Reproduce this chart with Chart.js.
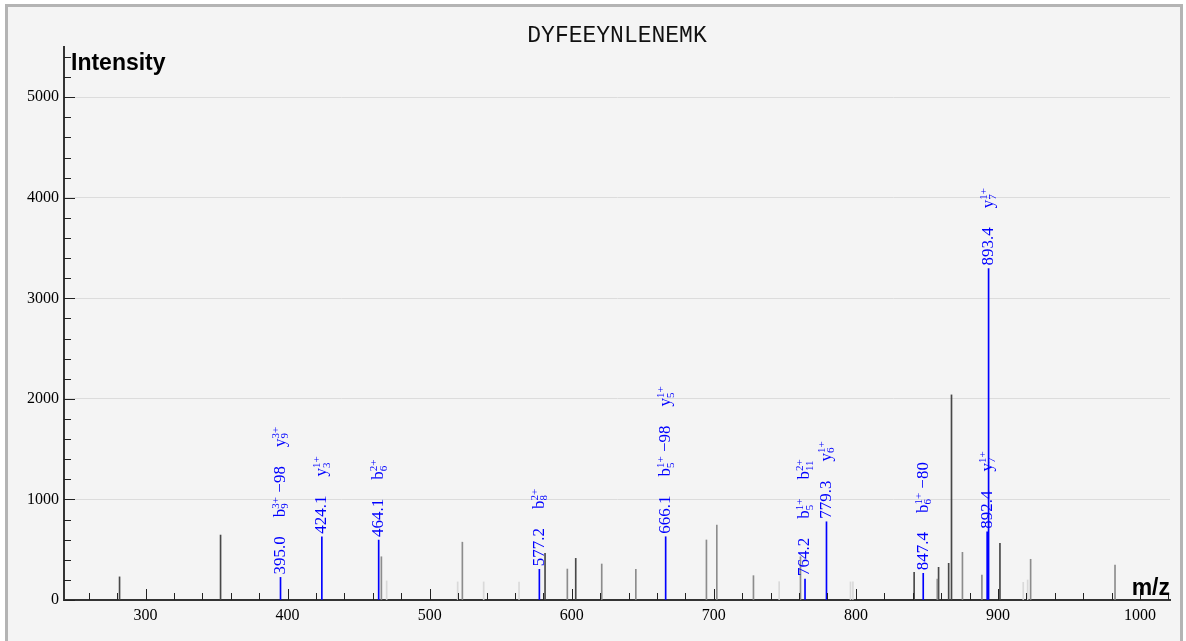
<!DOCTYPE html>
<html>
<head>
<meta charset="utf-8">
<script src="https://cdn.jsdelivr.net/npm/chart.js@4.4.1/dist/chart.umd.min.js"></script>
<style>
  html, body { margin: 0; padding: 0; background: #fff; }
  #frame { position: absolute; left: 5px; top: 4px; width: 1172px; height: 634px; border: 3px solid #b4b4b4; background: #f4f4f4; }
  #spectrum { position: absolute; left: 0; top: 0; }
</style>
</head>
<body>
<div id="frame"></div>
<canvas id="spectrum" width="1186" height="641"></canvas>
<script>
const peptide = "DYFEEYNLENEMK";

// unmatched peaks, dark
const darkMz  = [281.7, 352.8, 581.2, 602.8, 841.0, 858.2, 865.3, 867.3, 901.4];
const darkInt = [230, 646, 465, 414, 275, 325, 365, 2040, 563];

// unmatched peaks, medium
const midMz  = [466.0, 523.0, 596.9, 621.1, 645.1, 694.8, 702.1, 727.9, 761.0, 857.3, 875.0, 888.7, 923.0, 982.4];
const midInt = [430, 575, 308, 358, 305, 597, 745, 242, 430, 208, 474, 248, 405, 348];

// faint peaks
const lightMz  = [469.7, 519.7, 538.0, 562.9, 746.0, 796.2, 797.9, 917.8, 920.9];
const lightInt = [190, 180, 180, 178, 182, 180, 180, 176, 199];

// matched (annotated) peaks
const matchedMz  = [395.0, 424.1, 464.1, 577.2, 666.1, 764.2, 779.3, 847.4, 892.4, 893.4];
const matchedInt = [225, 629, 596, 305, 629, 209, 778, 265, 679, 3297];
const matchedIons = [
    ["b_9^3+ \u221298", "y_9^3+"],
    ["y_3^1+"],
    ["b_6^2+"],
    ["b_8^2+"],
    ["b_5^1+ \u221298", "y_5^1+"],
    ["b_5^1+", "b_11^2+"],
    ["y_6^1+"],
    ["b_6^1+ \u221280"],
    ["y_7^1+"],
    ["y_7^1+"]
];

const xMin = 242.6, xMax = 1021.1;
const yMax = 5500;

function pts(mz, inten) {
    return mz.map((m, i) => ({ x: m, y: inten[i] }));
}

const serif = '"Liberation Serif", "Times New Roman", serif';
const sans = '"Liberation Sans", Arial, sans-serif';

const spectrumDecor = {
    id: 'spectrumDecor',
    afterDraw(chart) {
        const { ctx, chartArea, scales: { x, y } } = chart;
        ctx.save();

        // ticks pointing into the plot
        ctx.strokeStyle = '#222';
        ctx.lineWidth = 1;
        ctx.beginPath();
        for (let v = Math.ceil(xMin / 20) * 20; v <= xMax; v += 20) {
            const px = Math.round(x.getPixelForValue(v)) + 0.5;
            const len = v % 100 === 0 ? 11 : 7;
            ctx.moveTo(px, chartArea.bottom);
            ctx.lineTo(px, chartArea.bottom - len);
        }
        for (let v = 0; v <= yMax; v += 200) {
            const py = Math.round(y.getPixelForValue(v)) + 0.5;
            const len = v % 1000 === 0 ? 11 : 7;
            ctx.moveTo(chartArea.left, py);
            ctx.lineTo(chartArea.left + len, py);
        }
        ctx.stroke();

        // title + axis names
        ctx.fillStyle = '#111';
        ctx.textBaseline = 'alphabetic';
        ctx.textAlign = 'center';
        ctx.font = '23px "Liberation Mono", "Courier New", monospace';
        ctx.fillText(peptide, (chartArea.left + chartArea.right) / 2, chartArea.top - 5);

        ctx.fillStyle = '#000';
        ctx.font = 'bold 23px ' + sans;
        ctx.textAlign = 'left';
        ctx.fillText('Intensity', chartArea.left + 7, chartArea.top + 23);
        ctx.textAlign = 'right';
        ctx.fillText('m/z', chartArea.right, chartArea.bottom - 5);

        // peak annotations, rotated
        ctx.fillStyle = '#0000ff';
        ctx.textBaseline = 'middle';
        ctx.textAlign = 'left';
        matchedMz.forEach((mz, i) => {
            const px = x.getPixelForValue(mz);
            const py = y.getPixelForValue(matchedInt[i]);
            ctx.save();
            ctx.translate(px, py - 3);
            ctx.rotate(-Math.PI / 2);
            let pos = 0;
            const num = mz.toFixed(1);
            ctx.font = '17px ' + serif;
            ctx.fillText(num, pos, 0);
            pos += ctx.measureText(num).width + 19;
            matchedIons[i].forEach(ion => {
                const m = ion.match(/^([a-z])_(\d+)\^(\d\+)(.*)$/);
                ctx.font = '17px ' + serif;
                ctx.fillText(m[1], pos, 0);
                pos += ctx.measureText(m[1]).width;
                ctx.font = '11px ' + serif;
                ctx.fillText(m[3], pos, -4.5);
                ctx.fillText(m[2], pos, 5);
                pos += Math.max(ctx.measureText(m[2]).width, ctx.measureText(m[3]).width);
                if (m[4]) {
                    ctx.font = '17px ' + serif;
                    ctx.fillText(m[4], pos, 0);
                    pos += ctx.measureText(m[4]).width;
                }
                pos += 19;
            });
            ctx.restore();
        });
        ctx.restore();
    }
};

const isMultiple = (v, step) => Math.abs(v / step - Math.round(v / step)) < 1e-6;

new Chart(document.getElementById('spectrum'), {
    type: 'bar',
    data: {
        datasets: [
            { data: pts(lightMz, lightInt), backgroundColor: '#d9d9d9' },
            { data: pts(midMz, midInt), backgroundColor: '#8c8c8c' },
            { data: pts(darkMz, darkInt), backgroundColor: '#484848' },
            { data: pts(matchedMz, matchedInt), backgroundColor: '#0000ff' }
        ]
    },
    options: {
        responsive: false,
        animation: false,
        layout: { padding: { top: 47, right: 16, bottom: 0, left: 0 } },
        datasets: { bar: { barThickness: 1, grouped: false, borderWidth: 0 } },
        plugins: {
            legend: { display: false },
            tooltip: { enabled: false },
            title: { display: false }
        },
        scales: {
            x: {
                type: 'linear',
                min: xMin,
                max: xMax,
                offset: false,
                afterFit(scale) { scale.height = 41; },
                grid: { offset: false, color: 'transparent', drawTicks: false },
                border: { color: '#333', width: 2 },
                ticks: {
                    stepSize: 20,
                    autoSkip: false,
                    maxRotation: 0,
                    padding: 6,
                    color: '#000',
                    font: { family: serif, size: 16 },
                    callback: v => isMultiple(v, 100) ? String(v) : ''
                }
            },
            y: {
                min: 0,
                max: yMax,
                afterFit(scale) { scale.width = 64; },
                grid: {
                    drawTicks: false,
                    color: c => (c.tick && c.tick.value > 0 && isMultiple(c.tick.value, 1000)) ? '#dcdcdc' : 'transparent'
                },
                border: { color: '#333', width: 2 },
                ticks: {
                    stepSize: 200,
                    autoSkip: false,
                    padding: 5,
                    color: '#000',
                    font: { family: serif, size: 16 },
                    callback: v => isMultiple(v, 1000) ? String(v) : ''
                }
            }
        }
    },
    plugins: [spectrumDecor]
});
</script>
</body>
</html>
